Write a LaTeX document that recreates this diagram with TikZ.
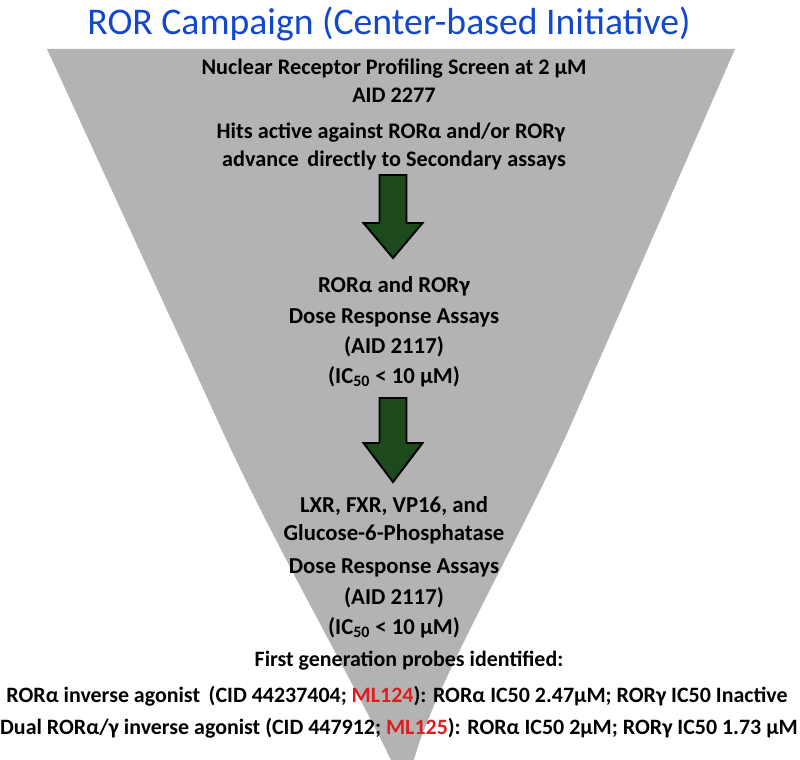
\documentclass[tikz,border=0pt]{standalone}
\usepackage{fontspec}
\setmainfont{Carlito}
\usepackage{tikz}
\usetikzlibrary{positioning}
\definecolor{funnelgray}{RGB}{179,179,179}
\definecolor{titleblue}{RGB}{18,72,204}
\definecolor{arrowgreen}{RGB}{28,74,28}
\definecolor{probered}{RGB}{222,30,30}

\begin{document}
\begin{tikzpicture}[x=0.025cm, y=-0.025cm,
        txt/.style={font=\bfseries\fontsize{16.2}{19}\selectfont, anchor=base, inner sep=0pt},
        toptxt/.style={font=\bfseries\fontsize{15.8}{18}\selectfont, anchor=base, inner sep=0pt},
        probetxt/.style={font=\bfseries\fontsize{15.6}{18}\selectfont, anchor=base, inner sep=0pt},
        bigarrow/.style={fill=arrowgreen, draw=black, line width=1.4pt, line join=miter}]
        \useasboundingbox (0, 0) rectangle (800, 760);

        \fill[funnelgray] (47, 49) -- (735, 49) -- (573, 420)
            .. controls (525, 530) and (432, 690) .. (414, 760) -- (391, 760)
            .. controls (355, 685) and (272, 540) .. (222, 430) -- cycle;

        \node[anchor=base, inner sep=0pt, text=titleblue, font=\fontsize{26.8}{30}\selectfont] (title) at (389, 35)
            {ROR Campaign (Center-based Initiative)};

        \node[toptxt] (screen) at (394, 75) {Nuclear Receptor Profiling Screen at 2 µM};
        \node[toptxt] (aid) at (394, 103) {AID 2277};
        \node[toptxt] (hits) at (391, 139) {Hits active against RORα and/or RORγ};
        \node[toptxt] (advance) at (394, 167) {advance\, directly to Secondary assays};

        \filldraw[bigarrow] (379.5, 175) -- (406.5, 175) -- (406.5, 223) -- (422.5, 223)
            -- (393, 258) -- (363.5, 223) -- (379.5, 223) -- cycle;

        \node[txt] (rorab) at (394, 293) {RORα and RORγ};
        \node[txt] (dosea) at (394, 323) {Dose Response Assays};
        \node[txt] (aida) at (394, 353) {(AID 2117)};
        \node[txt] (ica) at (394, 383) {(IC\textsubscript{50} < 10 µM)};

        \filldraw[bigarrow] (379.5, 398) -- (406.5, 398) -- (406.5, 443) -- (422.5, 443)
            -- (393, 482) -- (363.5, 443) -- (379.5, 443) -- cycle;

        \node[txt] (lxr) at (394, 512) {LXR, FXR, VP16, and};
        \node[txt] (glucose) at (394, 540) {Glucose-6-Phosphatase};
        \node[txt] (doseb) at (394, 573) {Dose Response Assays};
        \node[txt] (aidb) at (394, 604) {(AID 2117)};
        \node[txt] (icb) at (394, 634) {(IC\textsubscript{50} < 10 µM)};

        \node[probetxt] (firstgen) at (409, 666) {First generation probes identified:};
        \node[probetxt] (probea) at (397, 702)
            {RORα inverse agonist\, (CID 44237404; \textcolor{probered}{ML124}): RORα IC50 2.47µM; RORγ IC50 Inactive};
        \node[probetxt] (probeb) at (399, 734)
            {Dual RORα/γ inverse agonist (CID 447912; \textcolor{probered}{ML125}): RORα IC50 2µM; RORγ IC50 1.73 µM};
\end{tikzpicture}
\end{document}
